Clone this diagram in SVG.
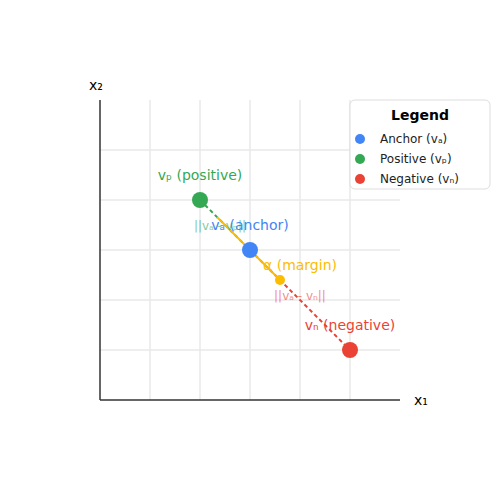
<svg xmlns="http://www.w3.org/2000/svg" width="500" height="500" viewBox="0 0 500 500">
<style>
text{font-family:"DejaVu Sans",sans-serif}
.grid line{stroke:#e8e8e8;stroke-width:1.5}
.axis{stroke:#333;stroke-width:1.5}
.lbl{font-size:14px;text-anchor:middle}
.dist{font-size:12px;text-anchor:middle;opacity:0.6}
.leg{font-size:12px;fill:#222}
</style>
<rect width="500" height="500" fill="#fff"/>
<g class="grid">
<line x1="150" y1="100" x2="150" y2="400"/><line x1="200" y1="100" x2="200" y2="400"/><line x1="250" y1="100" x2="250" y2="400"/><line x1="300" y1="100" x2="300" y2="400"/><line x1="350" y1="100" x2="350" y2="400"/>
<line x1="100" y1="150" x2="400" y2="150"/><line x1="100" y1="200" x2="400" y2="200"/><line x1="100" y1="250" x2="400" y2="250"/><line x1="100" y1="300" x2="400" y2="300"/><line x1="100" y1="350" x2="400" y2="350"/>
</g>
<g id="axes">
<line class="axis" x1="100" y1="100" x2="100" y2="400"/>
<line class="axis" x1="100" y1="400" x2="400" y2="400"/>
<text x="421" y="405" font-size="14" text-anchor="middle" fill="#000">x₁</text>
<text x="96" y="90" font-size="14" text-anchor="middle" fill="#000">x₂</text>
</g>
<g id="connectors">
<line x1="200" y1="200" x2="250" y2="250" stroke="#34a853" stroke-width="2" stroke-dasharray="4,3"/>
<line x1="250" y1="250" x2="350" y2="350" stroke="#ea4335" stroke-width="2" stroke-dasharray="4,3"/>
<line x1="217" y1="217" x2="280" y2="280" stroke="#fbbc04" stroke-width="2"/>
</g>
<g id="positive">
<circle cx="200" cy="200" r="8" fill="#34a853"/>
<text class="lbl" x="200" y="180" fill="#34a853">vₚ (positive)</text>
</g>
<g id="anchor">
<circle cx="250" cy="250" r="8" fill="#4285f4"/>
<text class="lbl" x="250" y="230" fill="#4285f4">vₐ (anchor)</text>
</g>
<g id="margin">
<circle cx="280" cy="280" r="5" fill="#fbbc04"/>
<text class="lbl" x="300" y="270" fill="#fbbc04">α (margin)</text>
</g>
<g id="negative">
<circle cx="350" cy="350" r="8" fill="#ea4335"/>
<text class="lbl" x="350" y="330" fill="#ea4335">vₙ (negative)</text>
</g>
<g id="dist-pos">
<text class="dist" x="220" y="230" fill="#34a853">||vₐ - vₚ||</text>
</g>
<g id="dist-neg">
<text class="dist" x="300" y="300" fill="#ea4335">||vₐ - vₙ||</text>
</g>
<g id="legend">
<rect x="350" y="100" width="140" height="89" rx="5" fill="#fff" stroke="#ddd"/>
<text x="420" y="120" font-size="14" font-weight="bold" text-anchor="middle" fill="#000">Legend</text>
<circle cx="360" cy="139" r="5" fill="#4285f4"/>
<text class="leg" x="380" y="143">Anchor (vₐ)</text>
<circle cx="360" cy="159" r="5" fill="#34a853"/>
<text class="leg" x="380" y="163">Positive (vₚ)</text>
<circle cx="360" cy="179" r="5" fill="#ea4335"/>
<text class="leg" x="380" y="183">Negative (vₙ)</text>
</g>
</svg>
